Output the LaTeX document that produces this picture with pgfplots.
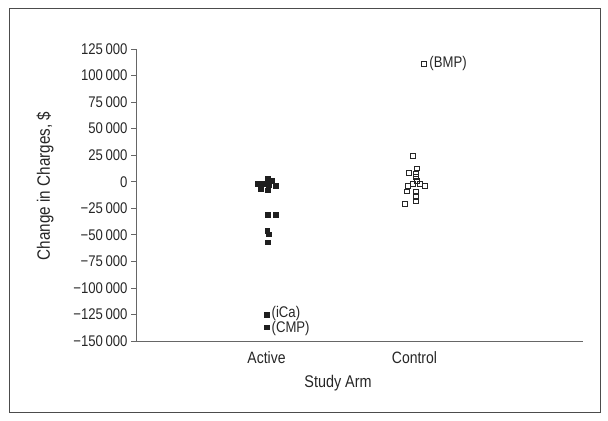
\documentclass[border=0pt]{standalone}
\usepackage{pgfplots}
\pgfplotsset{compat=1.18}
\usepackage{fontspec}
\setmainfont{Liberation Sans}[FakeStretch=0.85]
\begin{document}
\begin{tikzpicture}[x=1bp,y=1bp]
\path[use as bounding box] (0,0) rectangle (608,420);
\draw[color=black!70, line width=1bp] (9,8) rectangle (600,411);
\begin{axis}[name=main, at={(136bp,79bp)}, anchor=south west, scale only axis,
  width=447bp, height=292bp,
  xmin=0.118, xmax=3.139, ymin=-150000, ymax=125000,
  axis x line*=bottom, axis y line*=left,
  scaled y ticks=false,
  xtick={1,2}, xticklabels={Active,Control},
  x tick style={draw=none},
  ytick={-150000,-125000,-100000,-75000,-50000,-25000,0,25000,50000,75000,100000,125000},
  yticklabels={−150\,000,−125\,000,−100\,000,−75\,000,−50\,000,−25\,000,0,25\,000,50\,000,75\,000,100\,000,125\,000},
  tick align=outside, major tick length=5bp,
  axis line style={black!60, line width=0.9bp},
  y tick style={black!60, line width=0.8bp},
  yticklabel style={font=\fontsize{15.5}{17}\selectfont, text=black!85},
  xticklabel style={font=\fontsize{16.5}{18}\selectfont, text=black!85, yshift=-2bp},
  clip=false]
\addplot[only marks, mark=square*, mark size=2.4pt, color=black!88] coordinates {
(1.008,3200) (1.037,800) (0.939,-1500) (0.980,-1500) (1.017,-2500) (1.064,-3500)
(0.963,-6200) (1.008,-8000) (1.008,-31000) (1.064,-31000) (1.005,-46000)
(1.017,-49500) (1.008,-57000) (1.0,-125000) (1.0,-137000)
};
\addplot[only marks, mark=square, mark size=2.4pt, mark options={line width=0.9bp}, color=black!85] coordinates {
(1.992,24500) (2.015,12600) (1.963,7900) (2.008,7000) (2.008,4200) (2.015,400)
(1.992,-2200) (2.037,-2200) (2.071,-4300) (1.958,-4300) (1.947,-9100) (2.008,-9100)
(2.008,-14700) (2.008,-17900) (1.936,-21000) (2.066,111000)
};
\node[anchor=west, inner sep=0, font=\fontsize{15.5}{17}\selectfont, text=black!85] at (axis cs:2.066,111000) [xshift=5bp] {(BMP)};
\node[anchor=west, inner sep=0, font=\fontsize{15.5}{17}\selectfont, text=black!85] at (axis cs:1.0,-125000) [xshift=5bp, yshift=1bp] {(iCa)};
\node[anchor=west, inner sep=0, font=\fontsize{15.5}{17}\selectfont, text=black!85] at (axis cs:1.0,-137000) [xshift=5bp, yshift=-1.5bp] {(CMP)};
\end{axis}
\node[rotate=90, font=\fontsize{18}{20}\selectfont, text=black!85] at (45,234) {Change in Charges, \$};
\node[font=\fontsize{17}{19}\selectfont, text=black!85] at (338,37) {Study Arm};
\end{tikzpicture}
\end{document}
